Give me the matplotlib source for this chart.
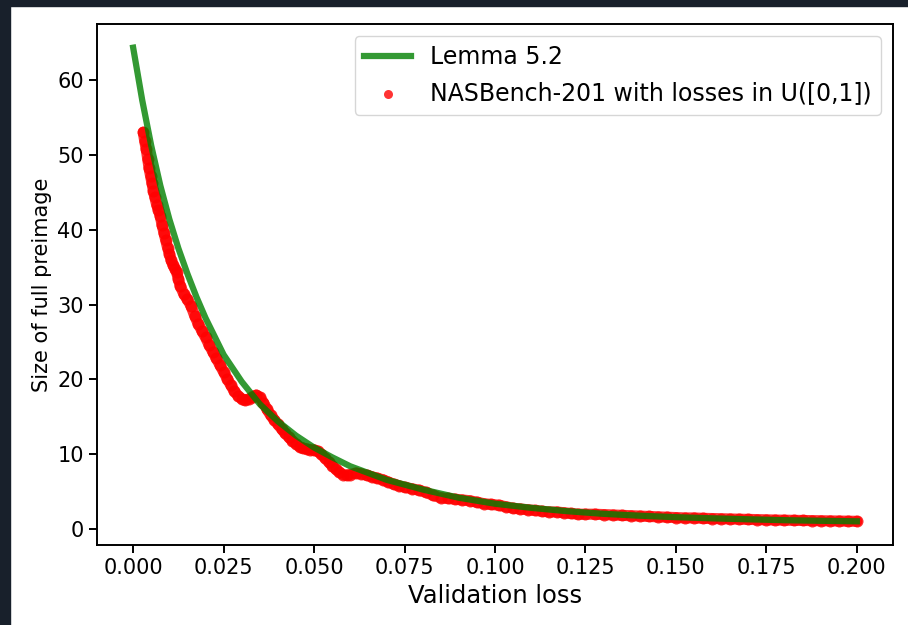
import matplotlib
matplotlib.use("Agg")
import matplotlib.pyplot as plt
from matplotlib.patches import Rectangle

# Lemma 5.2 curve
lemma_x = [0.0, 0.0025, 0.005, 0.0075, 0.01, 0.0125, 0.015, 0.0175, 0.02, 0.025,
           0.03, 0.035, 0.04, 0.045, 0.05, 0.055, 0.06, 0.07, 0.08, 0.09,
           0.10, 0.11, 0.12, 0.13, 0.14, 0.15, 0.16, 0.17, 0.18, 0.19, 0.20]
lemma_y = [64.3, 57.3, 51.2, 45.9, 41.4, 37.5, 34.1, 31.0, 28.2, 23.3,
           19.7, 16.7, 14.4, 12.5, 10.9, 9.6, 8.4, 6.6, 5.3, 4.2,
           3.4, 2.85, 2.4, 2.05, 1.8, 1.6, 1.45, 1.32, 1.2, 1.12, 1.05]

# NASBench-201 with uniform losses (red band)
nb_x = [0.0028, 0.0032, 0.0036, 0.0040, 0.0044, 0.0048, 0.0052, 0.0056, 0.0060, 0.0065,
        0.0070, 0.0075, 0.0080, 0.0085, 0.0090, 0.0095, 0.0100, 0.0105, 0.0110, 0.0115,
        0.0120, 0.0125, 0.0130, 0.0140, 0.0150, 0.0160, 0.0170, 0.0180, 0.0190, 0.0200,
        0.0210, 0.0220, 0.0230, 0.0240, 0.0250, 0.0260, 0.0270, 0.0280, 0.0290, 0.0300,
        0.0310, 0.0320, 0.0330, 0.0340, 0.0350, 0.0360, 0.0370, 0.0380, 0.0390, 0.0400,
        0.0410, 0.0420, 0.0430, 0.0440, 0.0450, 0.0460, 0.0470, 0.0480, 0.0490, 0.0500,
        0.0510, 0.0520, 0.0530, 0.0540, 0.0550, 0.0560, 0.0570, 0.0580, 0.0590, 0.0600,
        0.0615, 0.0630, 0.0645, 0.0660, 0.0675, 0.0690, 0.0705, 0.0720, 0.0735, 0.0750,
        0.0770, 0.0790, 0.0810, 0.0830, 0.0850, 0.0870, 0.0890, 0.0910, 0.0930, 0.0950,
        0.0970, 0.0990, 0.1010, 0.1030, 0.1050, 0.1070, 0.1090, 0.1110, 0.1130, 0.1150,
        0.1170, 0.1190, 0.1210, 0.1230, 0.1250, 0.1275, 0.1300, 0.1325, 0.1350, 0.1375,
        0.1400, 0.1425, 0.1450, 0.1475, 0.1500, 0.1525, 0.1550, 0.1575, 0.1600, 0.1625,
        0.1650, 0.1675, 0.1700, 0.1725, 0.1750, 0.1775, 0.1800, 0.1825, 0.1850, 0.1875,
        0.1900, 0.1925, 0.1950, 0.1975, 0.2000]
nb_y = [53.0, 51.8, 50.8, 49.5, 48.2, 47.2, 46.2, 45.2, 44.3, 43.3,
        42.6, 41.8, 40.6, 39.6, 38.6, 37.6, 36.8, 35.9, 35.3, 34.8,
        34.3, 33.4, 32.5, 31.4, 30.7, 29.8, 28.5, 27.4, 26.5, 25.6,
        24.6, 23.7, 22.8, 21.9, 21.0, 20.1, 19.2, 18.4, 17.8, 17.4,
        17.2, 17.4, 17.7, 17.9, 17.6, 16.9, 16.0, 15.2, 14.6, 14.0,
        13.4, 12.8, 12.3, 11.8, 11.4, 11.0, 10.8, 10.7, 10.6, 10.6,
        10.4, 10.0, 9.5, 9.0, 8.5, 8.0, 7.6, 7.3, 7.2, 7.3,
        7.5, 7.4, 7.2, 7.0, 6.8, 6.6, 6.3, 6.0, 5.8, 5.6,
        5.4, 5.2, 4.9, 4.5, 4.2, 4.1, 4.0, 3.9, 3.8, 3.6,
        3.4, 3.3, 3.2, 3.0, 2.8, 2.7, 2.6, 2.5, 2.4, 2.3,
        2.3, 2.2, 2.1, 2.0, 2.0, 2.0, 1.95, 1.9, 1.85, 1.8,
        1.75, 1.7, 1.65, 1.6, 1.55, 1.5, 1.5, 1.45, 1.42, 1.38,
        1.35, 1.32, 1.3, 1.28, 1.25, 1.22, 1.2, 1.18, 1.16, 1.14,
        1.12, 1.1, 1.08, 1.06, 1.05]

xticks = [0.0, 0.025, 0.05, 0.075, 0.1, 0.125, 0.15, 0.175, 0.2]

plt.rcParams['font.size'] = 15

fig = plt.figure(figsize=(9.08, 6.25), dpi=100)
# dark page border visible on top and left of the screenshot
fig.patches.append(Rectangle((0, 0.9904), 1, 0.0096, transform=fig.transFigure,
                             color='#18202b', zorder=0))
fig.patches.append(Rectangle((0, 0), 0.011, 1, transform=fig.transFigure,
                             color='#18202b', zorder=0))

ax = fig.add_axes([0.1068, 0.128, 0.8767, 0.8336])
ax.plot(nb_x, nb_y, color='red', alpha=0.8, lw=8, solid_capstyle='round', zorder=2)
sc = ax.scatter(nb_x, nb_y, s=75, color='red', alpha=0.8, lw=0, zorder=2,
                label='NASBench-201 with losses in U([0,1])')
ln, = ax.plot(lemma_x, lemma_y, color='green', alpha=0.8, lw=4.5, zorder=3,
              label='Lemma 5.2')

ax.set_xticks(xticks)
ax.set_xticklabels([f'{t:.3f}' for t in xticks])
ax.set_xlabel('Validation loss', fontsize=17.5)
ax.set_ylabel('Size of full preimage')
for s in ax.spines.values():
    s.set_linewidth(1.4)
ax.tick_params(width=1.4, length=6)

ax.legend(handles=[ln, sc], loc='upper right', fontsize=17, markerscale=0.75)
fig.savefig('out.png', dpi=100)
